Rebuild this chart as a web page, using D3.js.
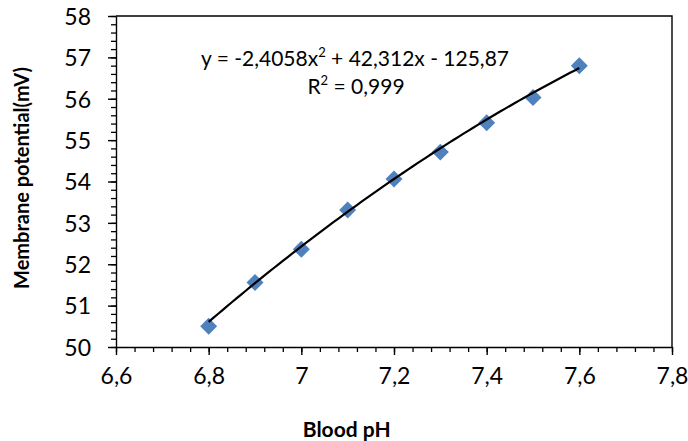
<!DOCTYPE html>
<html>
<head>
<meta charset="utf-8">
<script src="https://cdn.jsdelivr.net/npm/d3@7"></script>
<style>
  body { margin: 0; background: #fff; }
  svg text { font-family: Lato, "Open Sans", sans-serif; fill: #000; }
</style>
</head>
<body>
<div id="chart"></div>
<script>
// data
var phValues = [6.8, 6.9, 7.0, 7.1, 7.2, 7.3, 7.4, 7.5, 7.6];
var potentials = [50.50, 51.56, 52.36, 53.31, 54.06, 54.71, 55.42, 56.03, 56.80];
var xTicks = [6.6, 6.8, 7.0, 7.2, 7.4, 7.6, 7.8];
var yTicks = [50, 51, 52, 53, 54, 55, 56, 57, 58];
// trendline coefficients as printed on the chart (a, b, c of ax^2 + bx + c)
var trendCoef = [-2.4058, 42.312, -125.87];

var margin = {top: 16, right: 16, bottom: 94, left: 116},
    width = 688 - margin.left - margin.right,
    height = 441 - margin.top - margin.bottom;

var svg = d3.select("#chart").append("svg")
    .attr("width", 688)
    .attr("height", 441);

var g = svg.append("g")
    .attr("transform", "translate(" + margin.left + "," + margin.top + ")");

var x = d3.scaleLinear().domain([6.6, 7.8]).range([0, width]);
var y = d3.scaleLinear().domain([50, 58]).range([height, 0]);

var fmt = function(d) { return (Math.round(d * 10) / 10).toString().replace(".", ","); };

// minor ticks
var xMinor = d3.range(6.6, 7.8001, 0.04);
var yMinor = d3.range(50, 58.001, 0.2);

g.append("g")
    .attr("transform", "translate(0," + height + ")")
    .call(d3.axisBottom(x).tickValues(xMinor).tickSize(5).tickFormat(""))
    .call(function(a) { a.select(".domain").remove(); a.selectAll("line").attr("stroke-width", 1.3); });

g.append("g")
    .call(d3.axisLeft(y).tickValues(yMinor).tickSize(5).tickFormat(""))
    .call(function(a) { a.select(".domain").remove(); a.selectAll("line").attr("stroke-width", 1.3); });

// major axes
var xAxis = g.append("g")
    .attr("transform", "translate(0," + height + ")")
    .call(d3.axisBottom(x).tickValues(xTicks).tickSize(8).tickSizeOuter(0).tickPadding(13).tickFormat(fmt));
xAxis.select(".domain").attr("stroke-width", 1.4);
xAxis.selectAll("line").attr("stroke-width", 1.4);
xAxis.selectAll("text").style("font-size", "23px");

var yAxis = g.append("g")
    .call(d3.axisLeft(y).tickValues(yTicks).tickSize(8).tickSizeOuter(0).tickPadding(17).tickFormat(d3.format("d")));
yAxis.select(".domain").attr("stroke-width", 1.4);
yAxis.selectAll("line").attr("stroke-width", 1.4);
yAxis.selectAll("text").style("font-size", "23px").attr("dy", "0.36em");

// top and right frame
g.append("path")
    .attr("d", "M0,0H" + width + "V" + height)
    .attr("fill", "none")
    .attr("stroke", "#000")
    .attr("stroke-width", 1.4);

// points
g.selectAll(".pt")
    .data(phValues)
    .enter().append("path")
    .attr("class", "pt")
    .attr("d", d3.symbol().type(d3.symbolSquare).size(144))
    .attr("transform", function(d, i) { return "translate(" + x(d) + "," + y(potentials[i]) + ") rotate(45)"; })
    .attr("fill", "#4F81BD");

// polynomial trendline
var trendX = d3.range(phValues[0], phValues[phValues.length - 1] + 0.0001, 0.01);
g.append("path")
    .datum(trendX)
    .attr("fill", "none")
    .attr("stroke", "#000")
    .attr("stroke-width", 2.2)
    .attr("d", d3.line()
        .x(function(d) { return x(d); })
        .y(function(d) { return y(trendCoef[0] * d * d + trendCoef[1] * d + trendCoef[2]); }));

// equation label
var eq = svg.append("text")
    .attr("x", 355)
    .attr("y", 66)
    .attr("text-anchor", "middle")
    .style("font-size", "21px");
eq.append("tspan").text("y = -2,4058x");
eq.append("tspan").attr("dy", -9).style("font-size", "13px").text("2");
eq.append("tspan").attr("dy", 9).text(" + 42,312x - 125,87");

var r2 = svg.append("text")
    .attr("x", 356)
    .attr("y", 94)
    .attr("text-anchor", "middle")
    .style("font-size", "21px");
r2.append("tspan").text("R");
r2.append("tspan").attr("dy", -9).style("font-size", "13px").text("2");
r2.append("tspan").attr("dy", 9).text(" = 0,999");

// axis titles
svg.append("text")
    .attr("x", margin.left + x(7.1) - 1)
    .attr("y", 437)
    .attr("text-anchor", "middle")
    .style("font-size", "21px")
    .style("font-weight", "bold")
    .text("Blood pH");

svg.append("text")
    .attr("transform", "translate(29,178) rotate(-90)")
    .attr("text-anchor", "middle")
    .style("font-size", "20px")
    .style("font-weight", "bold")
    .text("Membrane potential(mV)");
</script>
</body>
</html>
